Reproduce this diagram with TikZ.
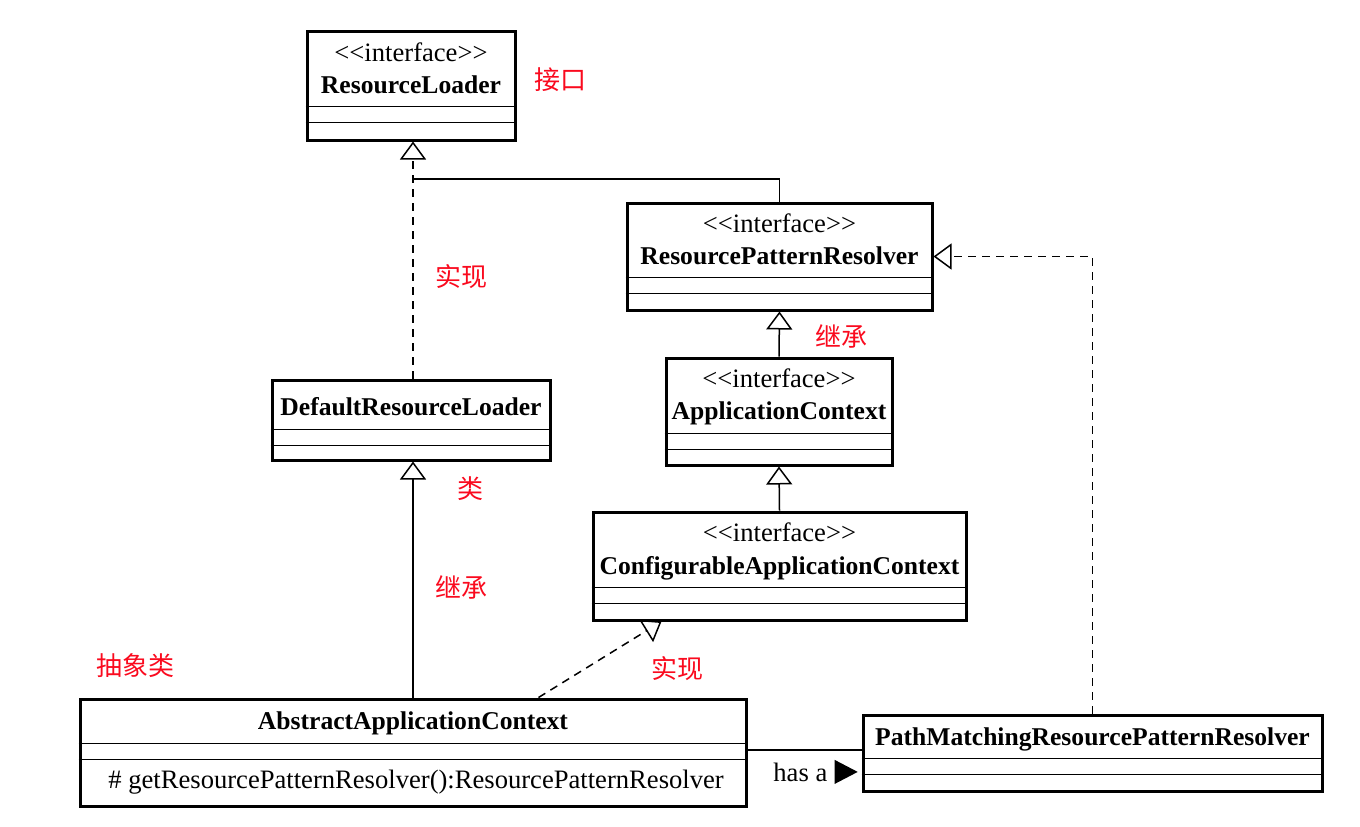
\documentclass[tikz,border=0pt]{standalone}
\usepackage{fontspec}
\setmainfont{Liberation Serif}
\newfontfamily\cjk{Noto Sans CJK SC}
\usetikzlibrary{arrows.meta,calc}
\definecolor{notered}{RGB}{250,10,30}
\tikzset{classbox/.style={draw, line width=1.5pt, inner sep=0pt}}
\tikzset{sep/.style={line width=0.6pt}}
\tikzset{stereotype/.style={anchor=base, inner sep=0pt, font=\fontsize{13.3}{15}\selectfont}}
\tikzset{classname/.style={anchor=base, inner sep=0pt, font=\fontsize{12.8}{15}\selectfont\bfseries}}
\tikzset{note/.style={text=notered, inner sep=0pt, font=\cjk\fontsize{13}{15}\selectfont}}
\tikzset{inherit/.style={line width=0.75pt, -{Triangle[open,length=9pt,width=13pt]}}}
\tikzset{impl/.style={inherit, dash pattern=on 4pt off 3pt}}
\newcommand{\stereo}{<\kern0pt<interface>\kern0pt>}

\begin{document}
\begin{tikzpicture}[x=0.5pt,y=-0.5pt]
    \useasboundingbox (0,0) rectangle (1360,826);

    % class boxes
    \node[classbox, minimum width=104pt, minimum height=54.5pt] (rl) at (411,85.5) {};
    \node[classbox, minimum width=152.5pt, minimum height=53.5pt] (rpr) at (779.5,256.5) {};
    \node[classbox, minimum width=113pt, minimum height=53.5pt] (ac) at (779,411.5) {};
    \node[classbox, minimum width=186.5pt, minimum height=54pt] (cac) at (779.5,566) {};
    \node[classbox, minimum width=139pt, minimum height=40pt] (drl) at (411,420) {};
    \node[classbox, minimum width=333pt, minimum height=53.5pt] (aac) at (413,752.5) {};
    \node[classbox, minimum width=229.5pt, minimum height=38pt] (pm) at (1092.5,753) {};

    % names
    \node[stereotype] (rlst) at (411,61) {\stereo};
    \node[classname] (rlname) at (411,93) {ResourceLoader};
    \node[stereotype] (rprst) at (779.5,232) {\stereo};
    \node[classname] (rprname) at (779.5,264) {ResourcePatternResolver};
    \node[stereotype] (acst) at (779,387) {\stereo};
    \node[classname] (acname) at (779,419) {ApplicationContext};
    \node[stereotype] (cacst) at (779.5,541) {\stereo};
    \node[classname] (cacname) at (779.5,574) {ConfigurableApplicationContext};
    \node[classname] (drlname) at (411,415) {DefaultResourceLoader};
    \node[classname] (aacname) at (413,729) {AbstractApplicationContext};
    \node[stereotype, anchor=base west] (aacop) at (108,788) {\# getResourcePatternResolver():ResourcePatternResolver};
    \node[classname] (pmname) at (1092.5,745) {PathMatchingResourcePatternResolver};

    % compartments
    \draw[sep] ($(rl.south west)+(0,-35)$) -- ($(rl.south east)+(0,-35)$);
    \draw[sep] ($(rl.south west)+(0,-19)$) -- ($(rl.south east)+(0,-19)$);
    \draw[sep] ($(rpr.south west)+(0,-34)$) -- ($(rpr.south east)+(0,-34)$);
    \draw[sep] ($(rpr.south west)+(0,-18)$) -- ($(rpr.south east)+(0,-18)$);
    \draw[sep] ($(ac.south west)+(0,-33)$) -- ($(ac.south east)+(0,-33)$);
    \draw[sep] ($(ac.south west)+(0,-17)$) -- ($(ac.south east)+(0,-17)$);
    \draw[sep] ($(cac.south west)+(0,-34)$) -- ($(cac.south east)+(0,-34)$);
    \draw[sep] ($(cac.south west)+(0,-18)$) -- ($(cac.south east)+(0,-18)$);
    \draw[sep] ($(drl.south west)+(0,-32)$) -- ($(drl.south east)+(0,-32)$);
    \draw[sep] ($(drl.south west)+(0,-16)$) -- ($(drl.south east)+(0,-16)$);
    \draw[sep] ($(aac.south west)+(0,-64)$) -- ($(aac.south east)+(0,-64)$);
    \draw[sep] ($(aac.south west)+(0,-48)$) -- ($(aac.south east)+(0,-48)$);
    \draw[sep] ($(pm.south west)+(0,-34)$) -- ($(pm.south east)+(0,-34)$);
    \draw[sep] ($(pm.south west)+(0,-18)$) -- ($(pm.south east)+(0,-18)$);

    % relations
    \coordinate (merge) at (413,179);
    \draw[impl] (drl.north -| merge) -- (rl.south -| merge);
    \draw[line width=0.75pt] (rpr.north) |- (merge);
    \draw[inherit] (ac.north) -- (rpr.south);
    \draw[inherit] (cac.north) -- (ac.south);
    \draw[inherit] (aac.north) -- (aac.north |- drl.south);
    \draw[impl] ($(aac.north west)+(460,0)$) -- ($(cac.south west)+(70,0)$);
    \draw[impl] (pm.north) |- (rpr.east);
    \draw[line width=0.75pt] (aac.east |- 0,750) -- (pm.west |- 0,750);
    \node[stereotype, anchor=base west] (hasa) at (773,781) {has a};
    \fill ($(hasa.east)+(7,-12)$) -- ++(23,12) -- ++(-23,12) -- cycle;

    % notes
    \node[note] (n1) at (560,80) {接口};
    \node[note] (n2) at (461,277) {实现};
    \node[note] (n3) at (841,336) {继承};
    \node[note] (n4) at (470,489) {类};
    \node[note] (n5) at (461,587) {继承};
    \node[note] (n6) at (135,666) {抽象类};
    \node[note] (n7) at (677,669) {实现};
\end{tikzpicture}
\end{document}
